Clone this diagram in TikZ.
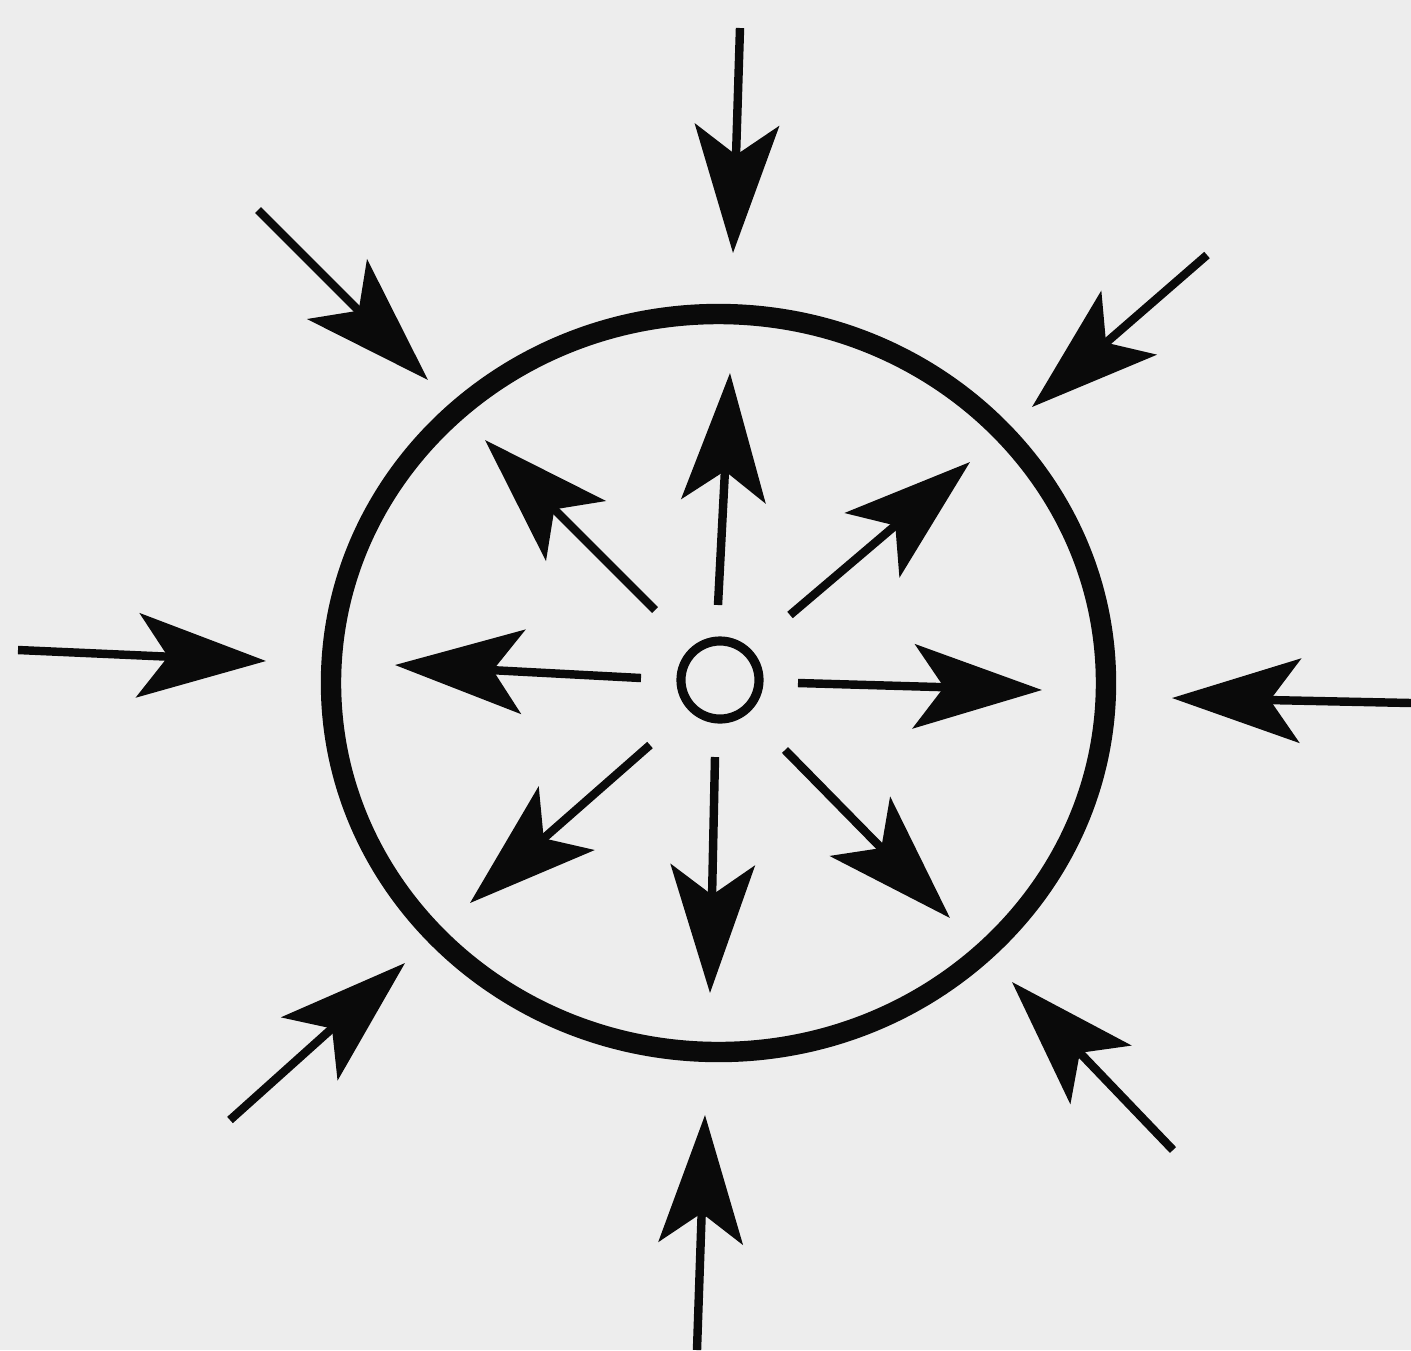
\documentclass[tikz,border=0pt]{standalone}
\usetikzlibrary{arrows.meta}
\definecolor{paper}{RGB}{237,237,237}
\definecolor{ink}{RGB}{10,10,10}
\begin{document}
\begin{tikzpicture}[x=0.01cm,y=-0.01cm,
  shaft/.style={draw=ink,line width=2.4pt,-{Stealth[length=1.28cm,width=0.84cm,inset=0.3cm]}},
  bigring/.style={draw=ink,line width=5.8pt},
  hub/.style={circle,draw=ink,line width=2.6pt,minimum size=0.78cm,inner sep=0pt}]
\fill[paper] (0,0) rectangle (1411,1350);
\useasboundingbox (0,0) rectangle (1411,1350);
% outer ring
\draw[bigring] (718.5,683) ellipse [x radius=387.5, y radius=369];
% hub
\node[hub] (hub) at (720,680) {};
% inner arrows: start -> tip
\coordinate (iNs) at (718,605);  \coordinate (iNt) at (730,373);
\coordinate (iNWs) at (655,610); \coordinate (iNWt) at (485,440);
\coordinate (iNEs) at (790,615); \coordinate (iNEt) at (970,462);
\coordinate (iWs) at (641,678);  \coordinate (iWt) at (395,665);
\coordinate (iEs) at (798,683);  \coordinate (iEt) at (1042,690);
\coordinate (iSWs) at (650,745); \coordinate (iSWt) at (470,903);
\coordinate (iSs) at (715,757);  \coordinate (iSt) at (710,993);
\coordinate (iSEs) at (785,750); \coordinate (iSEt) at (950,918);
% outer arrows: start -> tip
\coordinate (oNs) at (740,28);    \coordinate (oNt) at (733,253);
\coordinate (oNWs) at (258,210);  \coordinate (oNWt) at (428,380);
\coordinate (oNEs) at (1207,255); \coordinate (oNEt) at (1032,407);
\coordinate (oWs) at (18,650);    \coordinate (oWt) at (266,661);
\coordinate (oEs) at (1411,703);  \coordinate (oEt) at (1172,698);
\coordinate (oSWs) at (230,1120); \coordinate (oSWt) at (405,963);
\coordinate (oSs) at (697,1350);  \coordinate (oSt) at (705,1115);
\coordinate (oSEs) at (1173,1150);\coordinate (oSEt) at (1012,982);
\foreach \d in {N,NW,NE,W,E,SW,S,SE}{
  \draw[shaft] (i\d s) -- (i\d t);
  \draw[shaft] (o\d s) -- (o\d t);
}
\end{tikzpicture}
\end{document}
